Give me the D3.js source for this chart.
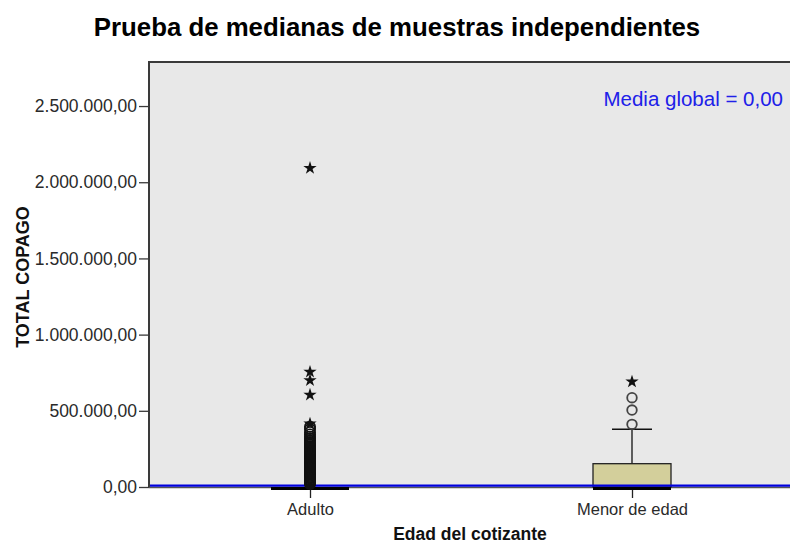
<!DOCTYPE html>
<html>
<head>
<meta charset="utf-8">
<script src="https://cdn.jsdelivr.net/npm/d3@7"></script>
<style>
  body { margin: 0; background: #fff; }
  text { font-family: "Liberation Sans", Arial, sans-serif; }
</style>
</head>
<body>
<div id="container"></div>
<script>
//---------------------------------------------------------
// DATA

const categories = ['Adulto', 'Menor de edad']

// box stats: q1, median, q3, whisker low, whisker high
const boxStats = [
  { cat: 'Adulto', q1: 0, median: 0, q3: 0, lo: 0, hi: 0 },
  { cat: 'Menor de edad', q1: 0, median: 0, q3: 153000, lo: 0, hi: 379000 }
]

// outliers (circles) and extremes (stars)
const adultoOutliers = [395000, 380000, 360000, 345000, 330000, 318000, 306000, 296000, 286000, 276000,
  268000, 260000, 252000, 244000, 236000, 228000, 221000, 214000, 207000, 200000, 193000, 186000,
  179000, 172000, 165000, 158000, 151000, 145000, 139000, 133000, 127000, 121000, 115000, 109000,
  103000, 97000, 91000, 85000, 79000, 73000, 67000, 61000, 55000, 49000, 43000, 37000, 31000, 25000, 19000]
const adultoExtremes = [2093000, 755000, 700000, 605000, 415000]
const menorOutliers = [411000, 505000, 586000]
const menorExtremes = [691000]

const yTicks = [0, 500000, 1000000, 1500000, 2000000, 2500000]
const globalMedian = 0

//---------------------------------------------------------
// SETUP

const width = 790
const height = 544
const margin = {top: 62, right: -3, bottom: 57, left: 149}

const svg = d3.select('#container').append('svg')
  .attr('width', width)
  .attr('height', height)

const x = d3.scalePoint()
  .domain(categories)
  .range([margin.left, width - margin.right])
  .padding(0.5)

const y = d3.scaleLinear()
  .domain([0, 2789000])
  .range([height - margin.bottom, margin.top])

const boxW = 78

const fmt = v => {
  const s = d3.format(',.2f')(v)
  return s.replace(/,/g, 'X').replace('.', ',').replace(/X/g, '.')
}

// //------------------------------------------------------
// // PLOT AREA

svg.append('rect')
  .attr('x', margin.left)
  .attr('y', margin.top)
  .attr('width', width - margin.right - margin.left)
  .attr('height', y(0) - margin.top)
  .attr('fill', '#e8e8e8')

// frame top + left
svg.append('path')
  .attr('d', `M${margin.left},${y(0) + 1}V${margin.top}H${width + 5}`)
  .attr('fill', 'none')
  .attr('stroke', '#3a3a3a')
  .attr('stroke-width', 2)

// //------------------------------------------------------
// // AXES

const yAxis = svg.append('g')
  .attr('transform', `translate(${margin.left},0)`)
  .call(d3.axisLeft(y).tickValues(yTicks).tickFormat(fmt).tickSize(10).tickPadding(2))

yAxis.select('.domain').remove()
yAxis.selectAll('line').attr('stroke', '#3a3a3a').attr('stroke-width', 1.3)
yAxis.selectAll('text')
  .attr('fill', '#2a2a2a')
  .style('font-size', '17.5px')
  .style('font-family', '"Liberation Sans", Arial, sans-serif')

const xAxis = svg.append('g')
  .attr('transform', `translate(0,${y(0)})`)
  .call(d3.axisBottom(x).tickSize(11).tickPadding(5))

xAxis.select('.domain')
  .attr('stroke', '#555')
  .attr('stroke-width', 1.5)
  .attr('d', `M${margin.left},0.5H${width + 5}`)
xAxis.selectAll('line').attr('stroke', '#222').attr('stroke-width', 1.3)
xAxis.selectAll('text')
  .attr('fill', '#2a2a2a')
  .style('font-size', '16.5px')
  .style('font-family', '"Liberation Sans", Arial, sans-serif')

// //------------------------------------------------------
// // BOXES

const boxes = svg.append('g')

boxes.selectAll('.whisker')
  .data(boxStats.filter(d => d.hi > d.q3))
  .join('line')
  .attr('x1', d => x(d.cat)).attr('x2', d => x(d.cat))
  .attr('y1', d => y(d.q3)).attr('y2', d => y(d.hi))
  .attr('stroke', '#111').attr('stroke-width', 1.3)

boxes.selectAll('.cap')
  .data(boxStats.filter(d => d.hi > d.q3))
  .join('line')
  .attr('x1', d => x(d.cat) - 20).attr('x2', d => x(d.cat) + 20)
  .attr('y1', d => y(d.hi)).attr('y2', d => y(d.hi))
  .attr('stroke', '#111').attr('stroke-width', 1.3)

boxes.selectAll('.box')
  .data(boxStats.filter(d => d.q3 > d.q1))
  .join('rect')
  .attr('x', d => x(d.cat) - boxW / 2)
  .attr('y', d => y(d.q3))
  .attr('width', boxW)
  .attr('height', d => y(d.q1) - y(d.q3))
  .attr('fill', '#d3cf9b')
  .attr('stroke', '#222')
  .attr('stroke-width', 1.3)

// global median reference line
svg.append('line')
  .attr('x1', margin.left + 1).attr('x2', width + 5)
  .attr('y1', y(globalMedian) - 1.3).attr('y2', y(globalMedian) - 1.3)
  .attr('stroke', '#0000dd')
  .attr('stroke-width', 2.2)

boxes.selectAll('.median')
  .data(boxStats)
  .join('line')
  .attr('x1', d => x(d.cat) - boxW / 2).attr('x2', d => x(d.cat) + boxW / 2)
  .attr('y1', d => y(d.median) + 1.5).attr('y2', d => y(d.median) + 1.5)
  .attr('stroke', '#000')
  .attr('stroke-width', 3)

// //------------------------------------------------------
// // OUTLIERS

const pts = svg.append('g')

const outliers = [
  ...adultoOutliers.map(v => ({cat: 'Adulto', v, dense: true})),
  ...menorOutliers.map(v => ({cat: 'Menor de edad', v, dense: false}))
]
const extremes = [
  ...adultoExtremes.map(v => ({cat: 'Adulto', v})),
  ...menorExtremes.map(v => ({cat: 'Menor de edad', v}))
]

pts.selectAll('circle')
  .data(outliers)
  .join('circle')
  .attr('cx', d => x(d.cat))
  .attr('cy', d => y(d.v))
  .attr('r', d => d.dense ? 5.2 : 4.8)
  .attr('fill', 'none')
  .attr('stroke', d => d.dense ? '#111' : '#444')
  .attr('stroke-width', d => d.dense ? 1.6 : 1.8)

const star = d3.symbol().type(d3.symbolStar).size(55)

pts.selectAll('path')
  .data(extremes)
  .join('path')
  .attr('transform', d => `translate(${x(d.cat)},${y(d.v)})`)
  .attr('d', star)
  .attr('fill', '#111')

// //------------------------------------------------------
// // TEXTS

svg.append('text')
  .attr('x', 783)
  .attr('y', 106)
  .attr('text-anchor', 'end')
  .attr('fill', '#2020e8')
  .style('font-size', '20.5px')
  .text('Media global = 0,00')

svg.append('text')
  .attr('x', 397)
  .attr('y', 36)
  .attr('text-anchor', 'middle')
  .attr('fill', '#000')
  .style('font-size', '25.8px')
  .style('font-weight', 'bold')
  .text('Prueba de medianas de muestras independientes')

svg.append('text')
  .attr('x', 470)
  .attr('y', 540)
  .attr('text-anchor', 'middle')
  .attr('fill', '#111')
  .style('font-size', '17.5px')
  .style('font-weight', 'bold')
  .text('Edad del cotizante')

svg.append('text')
  .attr('transform', 'translate(29,277) rotate(-90)')
  .attr('text-anchor', 'middle')
  .attr('fill', '#111')
  .style('font-size', '18px')
  .style('font-weight', 'bold')
  .text('TOTAL COPAGO')
</script>
</body>
</html>
